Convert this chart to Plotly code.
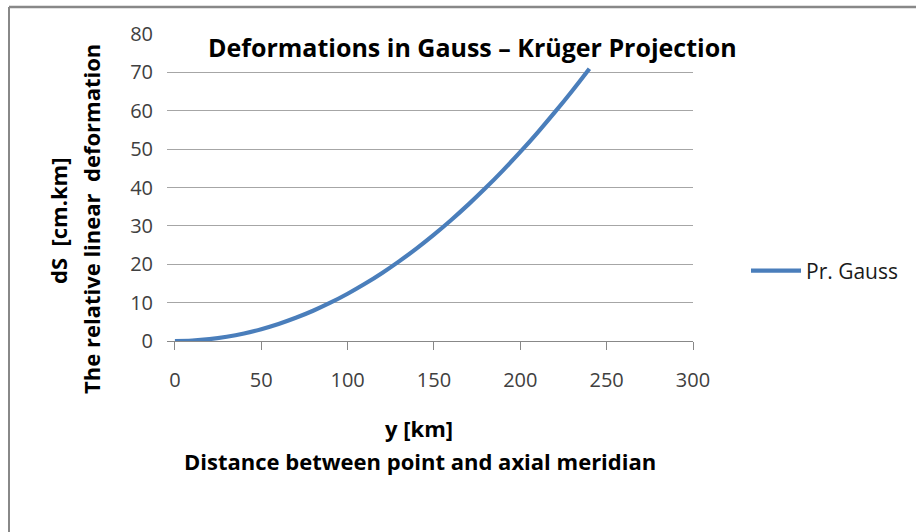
import plotly.graph_objects as go

# distance from the axial meridian, km
distance_km = [0, 10, 20, 30, 40, 50, 60, 70, 80, 90, 100, 110, 120,
               130, 140, 150, 160, 170, 180, 190, 200, 210, 220, 230, 240]
# relative linear deformation, cm per km
deformation = [0.0, 0.12, 0.49, 1.11, 1.97, 3.08, 4.43, 6.04, 7.88, 9.98,
               12.32, 14.9, 17.74, 20.82, 24.14, 27.72, 31.54, 35.6, 39.91,
               44.47, 49.27, 54.32, 59.62, 65.16, 70.95]

x_ticks = [0, 50, 100, 150, 200, 250, 300]
y_ticks = [0, 10, 20, 30, 40, 50, 60, 70, 80]

FONT = "Open Sans"

fig = go.Figure()
fig.add_trace(go.Scatter(
    x=distance_km, y=deformation, mode="lines", name="Pr. Gauss",
    line=dict(color="#4A7EBB", width=4.2, shape="spline"),
))

# plot-area pixel geometry (916 x 532 canvas)
L, R, T, B = 167, 693, 34, 341
W, H = 916, 532

def px(xp):
    return (xp - L) / (R - L)

def py(yp):
    return (B - yp) / (B - T)

def label(text, x, y, size, angle=0):
    return dict(text=text, xref="paper", yref="paper", x=px(x), y=py(y),
                xanchor="center", yanchor="middle", textangle=angle,
                showarrow=False,
                font=dict(family=FONT, size=size, color="#000000"))

fig.update_layout(
    width=W, height=H,
    margin=dict(l=L, r=W - R, t=T, b=H - B, pad=0),
    paper_bgcolor="white", plot_bgcolor="white",
    font=dict(family=FONT, color="#404040", size=16),
    showlegend=True,
    legend=dict(x=px(746), y=py(271), xanchor="left", yanchor="middle",
                font=dict(family=FONT, size=21, color="#1a1a1a"),
                bgcolor="rgba(0,0,0,0)", itemwidth=50),
    xaxis=dict(range=[-4.6, 300], tickvals=x_ticks, showgrid=False,
               zeroline=False, showline=True, linecolor="#888888", linewidth=1,
               ticks="outside", ticklen=8, tickcolor="#888888",
               ticklabelstandoff=13,
               tickfont=dict(family=FONT, size=20, color="#404040"),
               fixedrange=True),
    yaxis=dict(range=[0, 80], tickvals=y_ticks, showgrid=True,
               gridcolor="#A6A6A6", gridwidth=1, zeroline=False,
               showline=False, ticks="", ticklabelstandoff=13,
               tickfont=dict(family=FONT, size=20, color="#404040"),
               fixedrange=True),
    annotations=[
        label("<b>Deformations in Gauss – Krüger Projection</b>", 472, 47, 25),
        label("<b>y [km]</b>", 419, 428, 22),
        label("<b>Distance between point and axial meridian</b>", 420, 461, 22),
        label("<b>dS  [cm.km]</b>", 58, 221, 22, -90),
        label("<b>The relative linear  deformation</b>", 91, 219, 22, -90),
    ],
    shapes=[
        dict(type="line", xref="paper", yref="paper",
             x0=px(9), x1=px(916), y0=py(7), y1=py(7),
             line=dict(color="#888888", width=2.5)),
        dict(type="line", xref="paper", yref="paper",
             x0=px(9), x1=px(9), y0=py(7), y1=py(532),
             line=dict(color="#888888", width=2)),
    ],
)

fig.write_html("out.html")
